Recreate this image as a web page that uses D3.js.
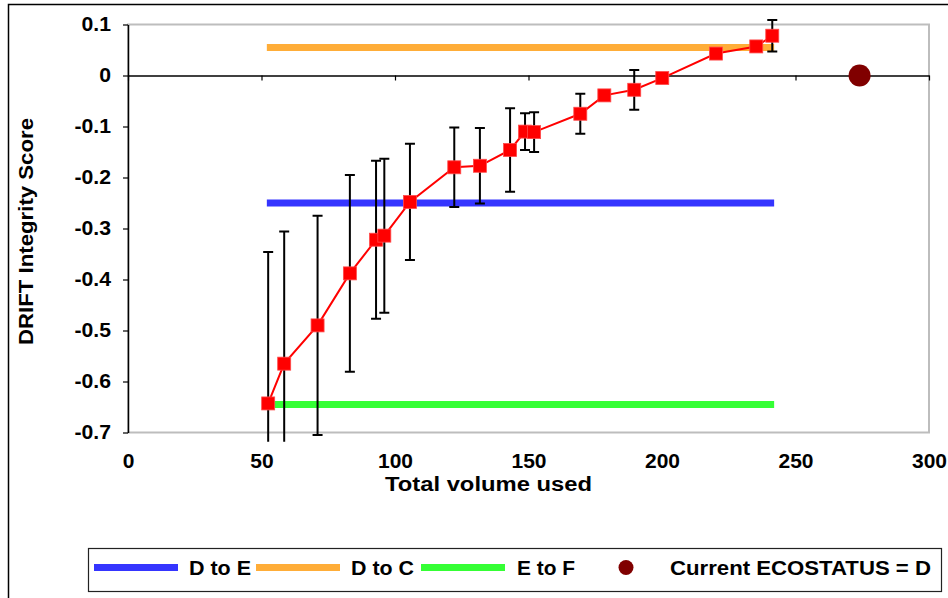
<!DOCTYPE html>
<html>
<head>
<meta charset="utf-8">
<script src="https://cdn.jsdelivr.net/npm/d3@7"></script>
<style>
  html, body { margin: 0; padding: 0; background: #fff; }
  svg { display: block; font-family: Arial, "Liberation Sans", sans-serif; font-weight: bold; }
</style>
</head>
<body>
<svg id="chart" width="948" height="598"></svg>
<script>
// DRIFT integrity score against total volume used
const volume = [52.5, 58.5, 71.0, 83.1, 92.9, 96.0, 105.6, 122.2, 131.8, 143.1, 148.7, 152.1, 169.4, 178.4, 189.6, 200.1, 220.2, 235.3, 241.3];
const score  = [-0.643, -0.565, -0.490, -0.388, -0.322, -0.314, -0.248, -0.180, -0.177, -0.146, -0.110, -0.111, -0.075, -0.039, -0.028, -0.005, 0.043, 0.057, 0.078];
const errorHalf = [0.297, 0.259, 0.215, 0.193, 0.155, 0.151, 0.114, 0.078, 0.074, 0.082, 0.036, 0.039, 0.039, 0.004, 0.039, 0.004, 0.004, 0.004, 0.031];

// Category boundary lines
const bandNames  = ["D to E", "D to C", "E to F"];
const bandScores = [-0.25, 0.055, -0.645];
const bandFrom   = [52, 52, 52];
const bandTo     = [242, 242, 242];

// Current ecological status point
const ecoLabel  = "Current ECOSTATUS = D";
const ecoVolume = [274];
const ecoScore  = [0];

const xTicks = [0, 50, 100, 150, 200, 250, 300];
const yTicks = [0.1, 0, -0.1, -0.2, -0.3, -0.4, -0.5, -0.6, -0.7];
const xTitle = "Total volume used";
const yTitle = "DRIFT Integrity Score";

const bandColors = ["#3535ff", "#ffad38", "#35ff35"];

const svg = d3.select("#chart");
const x = d3.scaleLinear().domain([0, 300]).range([128, 929]);
const y = d3.scaleLinear().domain([-0.7, 0.1]).range([432.5, 24.5]);

// widen glyphs slightly so the bold labels keep their set width
function widen(sel, k) {
  sel.each(function () {
    const n = this.getComputedTextLength();
    d3.select(this).attr("textLength", n * k).attr("lengthAdjust", "spacingAndGlyphs");
  });
}

// outer chart frame
svg.append("path").attr("d", "M8.5,598V4.5H948").attr("fill", "none").attr("stroke", "#000").attr("stroke-width", 1.5);

// plot area border
svg.append("rect")
  .attr("x", x(0)).attr("y", y(0.1))
  .attr("width", x(300) - x(0)).attr("height", y(-0.7) - y(0.1))
  .attr("fill", "none").attr("stroke", "#bdbdbd").attr("stroke-width", 2);

// y axis
const yAxis = svg.append("g").attr("transform", `translate(${x(0)},0)`)
  .call(d3.axisLeft(y).tickValues(yTicks).tickSize(5).tickSizeOuter(0).tickPadding(12).tickFormat(d => String(d)));
yAxis.select(".domain").attr("stroke", "#000").attr("stroke-width", 1.5);
yAxis.selectAll(".tick line").attr("stroke", "#000").attr("stroke-width", 1.2);
yAxis.selectAll("text").attr("font-size", 20).attr("font-weight", "bold").attr("fill", "#000").attr("font-family", "Arial, 'Liberation Sans', sans-serif");
widen(yAxis.selectAll("text"), 1.06);

// x axis line through zero
const xAxis = svg.append("g").attr("transform", `translate(0,${y(0)})`)
  .call(d3.axisBottom(x).tickValues(xTicks).tickSize(5).tickSizeOuter(0).tickFormat(""));
xAxis.select(".domain").attr("stroke", "#000").attr("stroke-width", 1.5);
xAxis.selectAll(".tick line").attr("stroke", "#000").attr("stroke-width", 1.2);

// x tick labels below the plot
const xLab = svg.append("g").attr("transform", `translate(0,${y(-0.7)})`)
  .call(d3.axisBottom(x).tickValues(xTicks).tickSize(0).tickPadding(21).tickFormat(d => String(d)));
xLab.select(".domain").remove();
xLab.selectAll("text").attr("font-size", 20).attr("font-weight", "bold").attr("fill", "#000").attr("font-family", "Arial, 'Liberation Sans', sans-serif");
widen(xLab.selectAll("text"), 1.05);

// boundary lines
svg.append("g").selectAll("line").data(bandScores).join("line")
  .attr("x1", (d, i) => x(bandFrom[i])).attr("x2", (d, i) => x(bandTo[i]))
  .attr("y1", d => y(d)).attr("y2", d => y(d))
  .attr("stroke", (d, i) => bandColors[i]).attr("stroke-width", 7);

// error bars, clipped just below the plot floor
svg.append("clipPath").attr("id", "errClip").append("rect")
  .attr("x", x(0)).attr("y", y(0.14))
  .attr("width", x(300) - x(0)).attr("height", y(-0.718) - y(0.14));
const eb = svg.append("g").attr("clip-path", "url(#errClip)").attr("stroke", "#000").attr("stroke-width", 2);
volume.forEach((v, i) => {
  const cx = x(v), hi = y(score[i] + errorHalf[i]), lo = y(score[i] - errorHalf[i]);
  eb.append("line").attr("x1", cx).attr("x2", cx).attr("y1", hi).attr("y2", lo);
  eb.append("line").attr("x1", cx - 5).attr("x2", cx + 5).attr("y1", hi).attr("y2", hi);
  eb.append("line").attr("x1", cx - 5).attr("x2", cx + 5).attr("y1", lo).attr("y2", lo);
});

// score line and markers
const pts = volume.map((v, i) => [v, score[i]]);
svg.append("path").datum(pts)
  .attr("d", d3.line().x(d => x(d[0])).y(d => y(d[1])))
  .attr("fill", "none").attr("stroke", "#ff0000").attr("stroke-width", 2);
svg.append("g").selectAll("rect").data(pts).join("rect")
  .attr("x", d => x(d[0]) - 6.5).attr("y", d => y(d[1]) - 6.5)
  .attr("width", 13).attr("height", 13)
  .attr("fill", "#ff0000").attr("stroke", "#ff4a4a").attr("stroke-width", 0.8);

// current status marker
svg.append("g").selectAll("circle").data(ecoVolume).join("circle")
  .attr("cx", d => x(d)).attr("cy", (d, i) => y(ecoScore[i])).attr("r", 11)
  .attr("fill", "#800000");

// axis titles
svg.append("text").attr("x", 488.5).attr("y", 491).attr("text-anchor", "middle")
  .attr("font-size", 20).text(xTitle)
  .attr("textLength", 207).attr("lengthAdjust", "spacingAndGlyphs");
svg.append("text").attr("transform", "translate(33,231.5) rotate(-90)").attr("text-anchor", "middle")
  .attr("font-size", 20).text(yTitle)
  .attr("textLength", 227).attr("lengthAdjust", "spacingAndGlyphs");

// legend
const lg = svg.append("g");
lg.append("rect").attr("x", 88.5).attr("y", 548.5).attr("width", 853).attr("height", 43)
  .attr("fill", "#fff").attr("stroke", "#222").attr("stroke-width", 1.2);
const legLineX = [94, 256, 421];
const legTextX = [189, 351, 517];
const legTextW = [62, 63, 58];
bandNames.forEach((name, i) => {
  lg.append("line").attr("x1", legLineX[i]).attr("x2", legLineX[i] + 84)
    .attr("y1", 567.5).attr("y2", 567.5).attr("stroke", bandColors[i]).attr("stroke-width", 7);
  lg.append("text").attr("x", legTextX[i]).attr("y", 574.5).attr("font-size", 20).text(name)
    .attr("textLength", legTextW[i]).attr("lengthAdjust", "spacingAndGlyphs");
});
lg.append("circle").attr("cx", 626).attr("cy", 567.5).attr("r", 7.5).attr("fill", "#800000");
lg.append("text").attr("x", 670).attr("y", 574.5).attr("font-size", 20).text(ecoLabel)
  .attr("textLength", 261).attr("lengthAdjust", "spacingAndGlyphs");
</script>
</body>
</html>
